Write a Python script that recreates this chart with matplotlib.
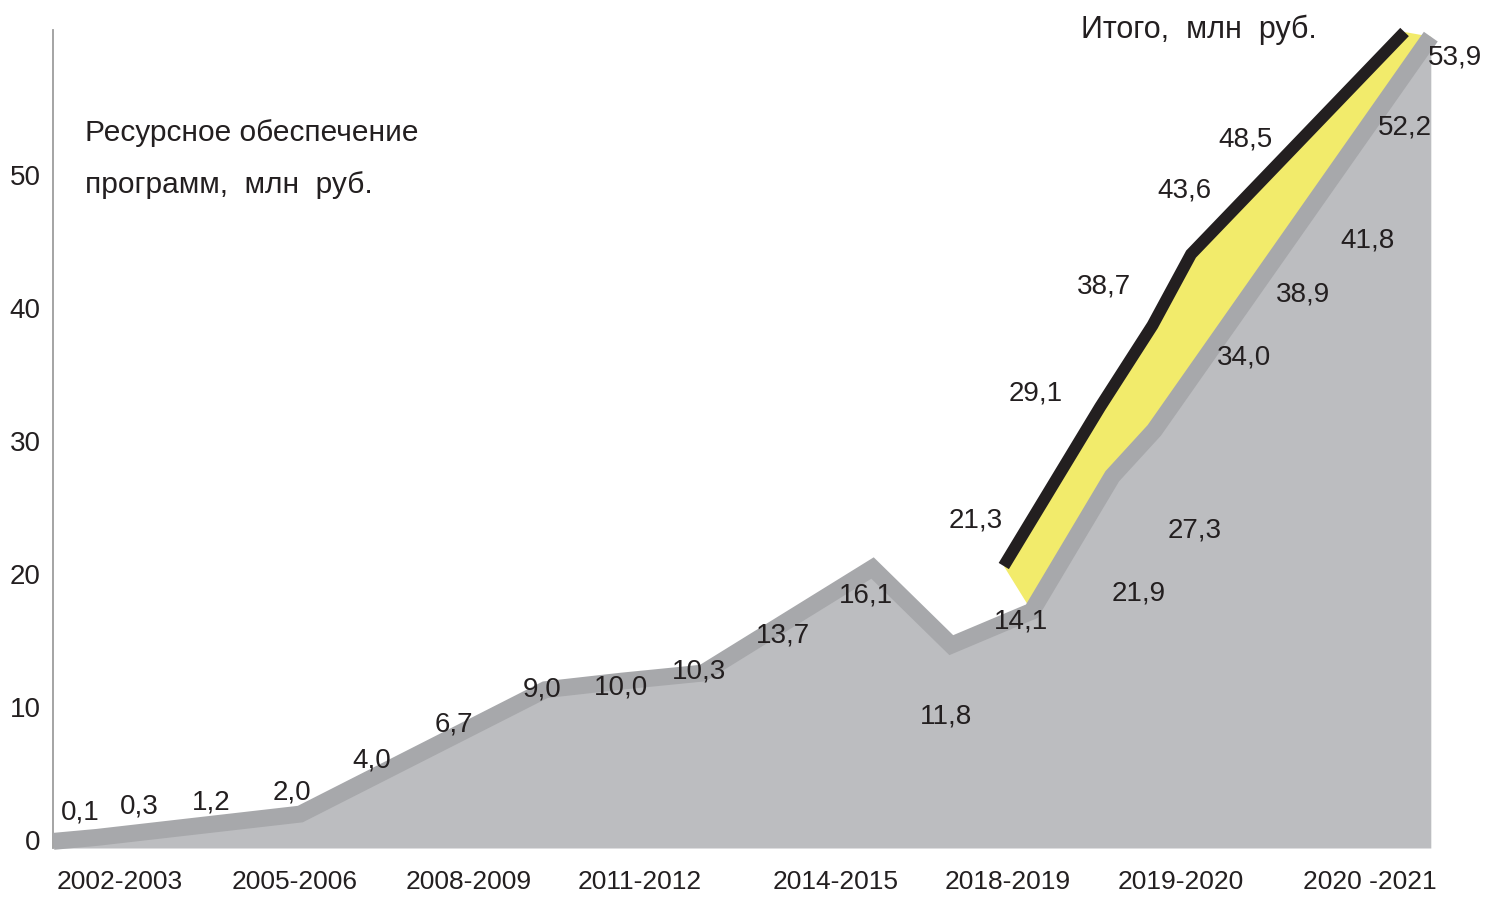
import numpy as np
import matplotlib.pyplot as plt

plt.rcParams['font.family'] = ['Liberation Sans Narrow', 'Liberation Sans', 'DejaVu Sans']

# Периоды (условная шкала по X) и подписи
period_pos = [0.0, 1.0, 1.99, 2.97, 4.09, 5.07, 6.06, 7.14]
period_labels = ['2002-2003', '2005-2006', '2008-2009', '2011-2012',
                 '2014-2015', '2018-2019', '2019-2020', '2020 -2021']

# Ресурсное обеспечение программ - ломаная
res_x = [-0.38, -0.13, 1.03, 2.43, 2.87, 3.33, 4.30, 4.75, 5.21, 5.67, 5.91, 7.49]
res_y = [-0.1, 0.2, 1.95, 11.3, 11.95, 12.55, 20.45, 14.65, 17.2, 27.35, 30.8, 60.4]

# Итого
tot_x = [5.05, 5.60, 5.90, 6.12, 7.34]
tot_y = [20.6, 32.55, 38.7, 44.05, 60.75]

# Подписи значений
res_labels = ['0,1', '0,3', '1,2', '2,0', '4,0', '6,7', '9,0', '10,0', '10,3', '13,7',
              '16,1', '11,8', '14,1', '21,9', '27,3', '34,0', '38,9', '41,8', '52,2', '53,9']
res_lab_x = [-0.23, 0.11, 0.52, 0.98, 1.44, 1.91, 2.41, 2.86, 3.31, 3.79,
             4.26, 4.72, 5.15, 5.82, 6.14, 6.42, 6.76, 7.13, 7.34, 7.63]
res_lab_y = [2.1, 2.55, 2.85, 3.6, 5.95, 8.7, 11.3, 11.5, 12.7, 15.35,
             18.35, 9.3, 16.45, 18.5, 23.25, 36.3, 41.0, 45.05, 53.55, 58.8]

tot_labels = ['21,3', '29,1', '38,7', '43,6', '48,5']
tot_lab_x = [4.89, 5.23, 5.62, 6.08, 6.43]
tot_lab_y = [24.0, 33.6, 41.6, 48.85, 52.65]

light_gray = '#bcbdc0'
band_gray = '#a7a8ab'
yellow = '#f2eb6b'
black = '#231f20'

fig = plt.figure(figsize=(14.85, 8.97), dpi=100)
ax = fig.add_axes([53 / 1485, 49 / 897, 1417 / 1485, 818 / 897])
ax.set_xlim(-0.383, 7.714)
ax.set_ylim(-0.6, 60.9)

# площадь под графиком
ax.fill_between(res_x, res_y, -0.6, color=light_gray, lw=0, zorder=1)

# жёлтая полоса между "Итого" и ресурсным обеспечением
k = 8
poly_x = np.r_[tot_x, res_x[k:][::-1]]
poly_y = np.r_[tot_y, res_y[k:][::-1]]
ax.fill(poly_x, poly_y, color=yellow, lw=0, zorder=2)

ax.plot(res_x, res_y, color=band_gray, lw=12.2, solid_joinstyle='miter',
        solid_capstyle='butt', zorder=3, clip_on=False)
ax.plot(tot_x, tot_y, color=black, lw=8.6, solid_joinstyle='miter',
        solid_capstyle='butt', zorder=4, clip_on=False)

for s, x, y in zip(res_labels, res_lab_x, res_lab_y):
    ax.text(x, y, s, fontsize=20, color=black,
            ha='center', va='center', zorder=5, clip_on=False)
for s, x, y in zip(tot_labels, tot_lab_x, tot_lab_y):
    ax.text(x, y, s, fontsize=20, color=black,
            ha='center', va='center', zorder=5)

ax.text(-0.2, 53.15, 'Ресурсное обеспечение', fontsize=21.5, color=black,
        ha='left', va='center')
ax.text(-0.2, 49.25, 'программ,  млн  руб.', fontsize=21.5, color=black,
        ha='left', va='center')
ax.text(5.49, 60.9, 'Итого,  млн  руб.', fontsize=22, color=black,
        ha='left', va='center')

for side in ['top', 'right', 'bottom']:
    ax.spines[side].set_visible(False)
ax.spines['left'].set_color('#9d9d9d')
ax.spines['left'].set_linewidth(1.3)

ax.set_yticks([0, 10, 20, 30, 40, 50])
ax.set_xticks(period_pos, period_labels)
ax.tick_params(axis='y', length=0, pad=9, labelsize=20, labelcolor=black)
ax.tick_params(axis='x', length=0, pad=16, labelsize=19, labelcolor=black)

fig.savefig('out.png', dpi=100)
